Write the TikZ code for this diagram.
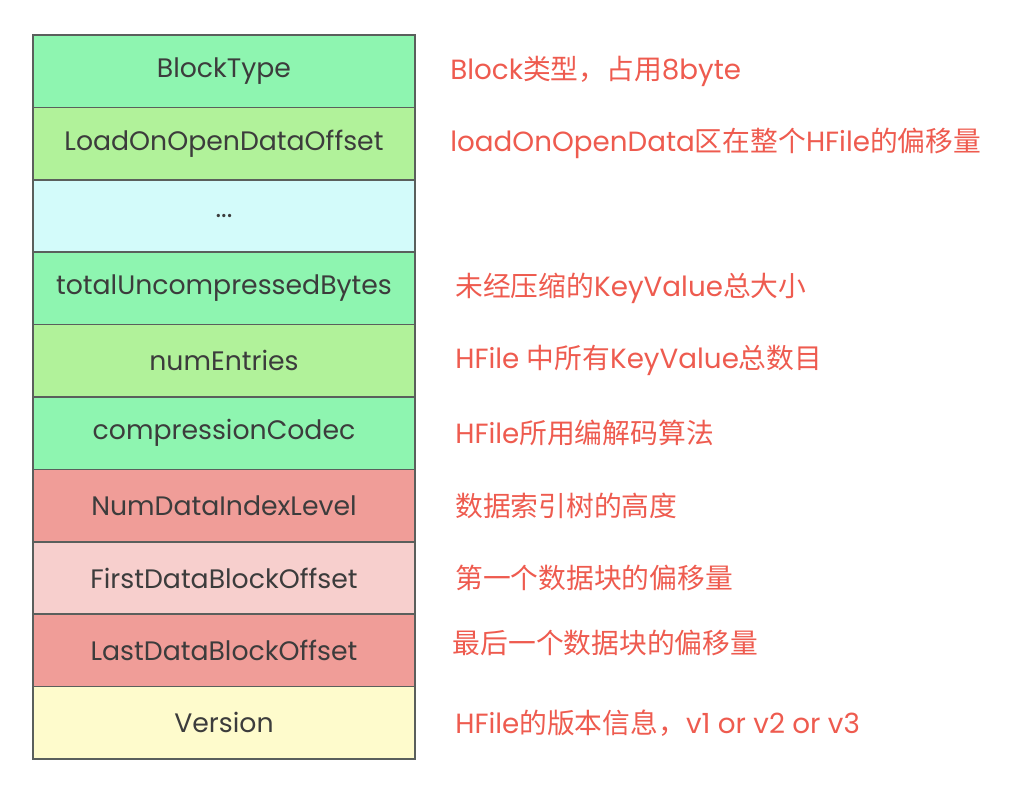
\documentclass[tikz,border=0pt]{standalone}
\usepackage{fontspec}
\setmainfont{Poppins}
\newfontfamily\cjk{Noto Sans CJK SC}
\usetikzlibrary{positioning}
\definecolor{frame}{HTML}{5A5F5C}
\definecolor{ink}{HTML}{3C3C3C}
\definecolor{mint}{HTML}{8EF5B0}
\definecolor{lime}{HTML}{B1F29A}
\definecolor{aqua}{HTML}{D3FBFA}
\definecolor{salmon}{HTML}{F09D98}
\definecolor{blush}{HTML}{F7CFCD}
\definecolor{cream}{HTML}{FEFBCC}
\definecolor{note}{HTML}{EE5B4F}

\begin{document}
\begin{tikzpicture}[
      field/.style={draw=frame, line width=0.9pt, outer sep=0pt, minimum width=7.64cm, minimum height=1.448cm,
                    text=ink, font=\fontsize{15.2}{18}\selectfont},
      remark/.style={text=note, anchor=west, inner sep=0pt, font=\fontsize{15.8}{19}\selectfont}]
    \useasboundingbox (0,0) rectangle (20.46,-15.72);
    \node[field, fill=mint, anchor=north west] (bt) at (0.66,-0.70) {BlockType};
    \node[field, fill=lime, below=0pt of bt] (lo) {LoadOnOpenDataOffset};
    \node[field, fill=aqua, below=0pt of lo] (dd) {...};
    \node[field, fill=mint, below=0pt of dd] (tu) {totalUncompressedBytes};
    \node[field, fill=lime, below=0pt of tu] (ne) {numEntries};
    \node[field, fill=mint, below=0pt of ne] (cc) {compressionCodec};
    \node[field, fill=salmon, below=0pt of cc] (nl) {NumDataIndexLevel};
    \node[field, fill=blush, below=0pt of nl] (fo) {FirstDataBlockOffset};
    \node[field, fill=salmon, below=0pt of fo] (lb) {LastDataBlockOffset};
    \node[field, fill=cream, below=0pt of lb] (ve) {Version};
    % notes on the right
    \node[remark, right=0.7cm of bt] (btn) {Block{\cjk 类型，占用}8byte};
    \node[remark, right=0.7cm of lo] (lon) {loadOnOpenData{\cjk 区在整个}HFile{\cjk 的偏移量}};
    \node[remark, right=0.8cm of tu] (tun) {{\cjk 未经压缩的}KeyValue{\cjk 总大小}};
    \node[remark, right=0.8cm of ne] (nen) {HFile {\cjk 中所有}KeyValue{\cjk 总数目}};
    \node[remark, right=0.8cm of cc] (ccn) {HFile{\cjk 所用编解码算法}};
    \node[remark, right=0.8cm of nl] (nln) {\cjk 数据索引树的高度};
    \node[remark, right=0.8cm of fo] (fon) {\cjk 第一个数据块的偏移量};
    \node[remark, right=0.75cm of lb, yshift=0.15cm] (lbn) {\cjk 最后一个数据块的偏移量};
    \node[remark, right=0.8cm of ve] (ven) {HFile{\cjk 的版本信息，}v1 or v2 or v3};
  \end{tikzpicture}
\end{document}
